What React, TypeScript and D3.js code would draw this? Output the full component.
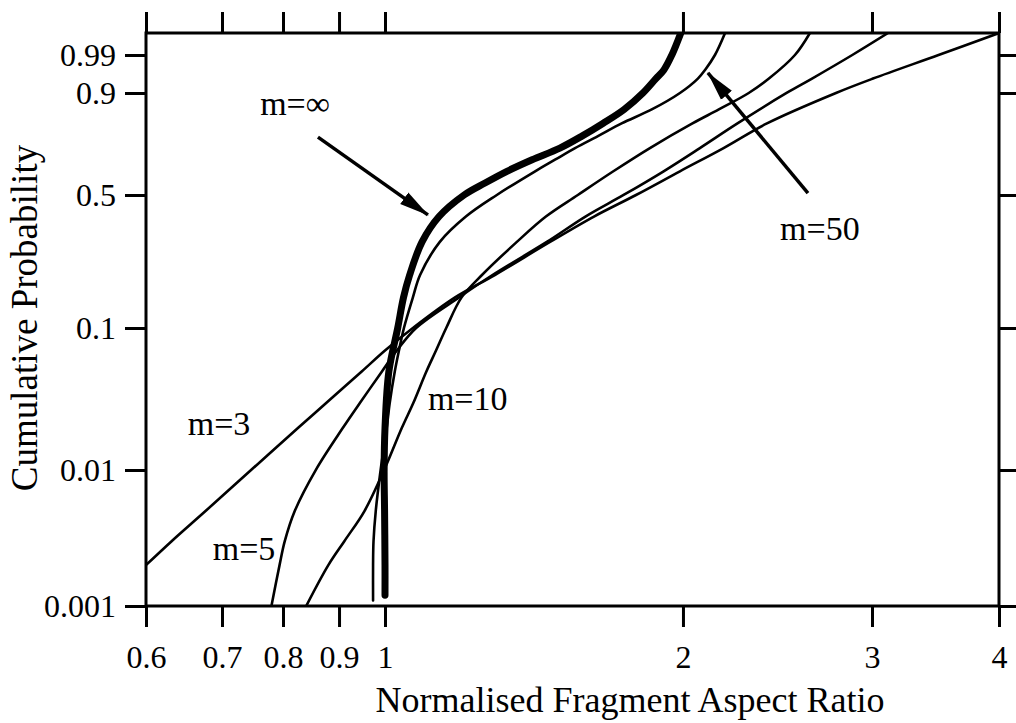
import * as d3 from "d3";
import { useEffect, useRef } from "react";

// axis ticks
const xTicks = [0.6, 0.7, 0.8, 0.9, 1, 2, 3, 4];
const xTickLabels = ["0.6", "0.7", "0.8", "0.9", "1", "2", "3", "4"];
const yTicks = [0.001, 0.01, 0.1, 0.5, 0.9, 0.99];
const yTickLabels = ["0.001", "0.01", "0.1", "0.5", "0.9", "0.99"];
const yMax = 0.999;

// curves: [normalised aspect ratio, cumulative probability]
const mInf: [number, number][] = [
  [1.0, 0.0012], [1.0, 0.002], [0.999, 0.005], [0.998, 0.01], [1.0, 0.02], [1.009, 0.05],
  [1.03, 0.1], [1.044, 0.15], [1.059, 0.2], [1.09, 0.3], [1.134, 0.4], [1.202, 0.5],
  [1.262, 0.55], [1.328, 0.6], [1.408, 0.65], [1.502, 0.7], [1.581, 0.75], [1.66, 0.8],
  [1.744, 0.85], [1.822, 0.9], [1.878, 0.95], [1.913, 0.97], [1.949, 0.99], [1.99, 0.999],
];
const m50: [number, number][] = [
  [0.973, 0.0011], [0.973, 0.002], [0.974, 0.003], [0.979, 0.005], [0.99, 0.01], [1.004, 0.02],
  [1.011, 0.03], [1.023, 0.05], [1.033, 0.07], [1.045, 0.1], [1.067, 0.15], [1.085, 0.2],
  [1.136, 0.3], [1.207, 0.4], [1.297, 0.5], [1.418, 0.6], [1.485, 0.65], [1.556, 0.7],
  [1.641, 0.75], [1.734, 0.8], [1.86, 0.85], [1.986, 0.9], [2.065, 0.95], [2.097, 0.97],
  [2.142, 0.99], [2.189, 0.999],
];
const m10: [number, number][] = [
  [0.84, 0.001], [0.88, 0.002], [0.911, 0.003], [0.954, 0.005], [0.998, 0.01], [1.04, 0.02],
  [1.068, 0.03], [1.101, 0.05], [1.126, 0.07], [1.153, 0.1], [1.195, 0.15], [1.253, 0.2],
  [1.359, 0.3], [1.454, 0.4], [1.566, 0.5], [1.701, 0.6], [1.852, 0.7], [2.041, 0.8],
  [2.16, 0.85], [2.303, 0.9], [2.405, 0.95], [2.543, 0.99], [2.626, 0.999],
];
const m5: [number, number][] = [
  [0.78, 0.001], [0.794, 0.002], [0.803, 0.003], [0.82, 0.005], [0.857, 0.01], [0.908, 0.02],
  [0.944, 0.03], [0.993, 0.05], [1.028, 0.07], [1.075, 0.1], [1.188, 0.15], [1.284, 0.2],
  [1.457, 0.3], [1.594, 0.4], [1.742, 0.5], [1.912, 0.6], [2.074, 0.7], [2.248, 0.8],
  [2.498, 0.9], [2.638, 0.95], [2.876, 0.99], [3.111, 0.999],
];
const m3: [number, number][] = [
  [0.6, 0.002], [0.632, 0.003], [0.677, 0.005], [0.746, 0.01], [0.826, 0.02], [0.876, 0.03],
  [0.948, 0.05], [1.0, 0.07], [1.067, 0.1], [1.177, 0.15], [1.291, 0.2], [1.468, 0.3],
  [1.626, 0.4], [1.793, 0.5], [1.986, 0.6], [2.182, 0.7], [2.395, 0.8], [2.777, 0.9],
  [3.007, 0.95], [3.488, 0.99], [4.0, 0.999],
];

// labels and arrows, in data coordinates
const labels: { text: string; at: [number, number] }[] = [
  { text: "m=∞", at: [0.761, 0.831] },
  { text: "m=50", at: [2.463, 0.307] },
  { text: "m=10", at: [1.105, 0.0268] },
  { text: "m=3", at: [0.653, 0.0178] },
  { text: "m=5", at: [0.687, 0.00218] },
];
const arrows: { from: [number, number]; to: [number, number] }[] = [
  { from: [0.861, 0.746], to: [1.105, 0.407] },
  { from: [2.615, 0.508], to: [2.11, 0.9638] },
];

const W = 1016;
const H = 723;
const margin = { top: 33, right: 17, bottom: 117, left: 146 };
// the printed axes are not evenly spaced: where each tick sits, as a fraction of the plot
const xTickFrac = [0, 0.0891, 0.1606, 0.2263, 0.2802, 0.6295, 0.8511, 1];
const yTickFrac = [0, 0.2373, 0.4852, 0.7173, 0.8953, 0.9616, 1];

const weib = (p: number) => Math.log(-Math.log(1 - p));
const FONT = "'Liberation Serif', 'Times New Roman', serif";

export default function App() {
  const svgRef = useRef<SVGSVGElement>(null);

  useEffect(() => {
    const svg = d3.select(svgRef.current);
    svg.selectAll("*").remove();

    const plotW = W - margin.left - margin.right;
    const plotH = H - margin.top - margin.bottom;

    const x = d3.scaleLog()
      .domain(xTicks)
      .range(xTickFrac.map(f => margin.left + f * plotW));
    const yLin = d3.scaleLinear()
      .domain([...yTicks, yMax].map(weib))
      .range(yTickFrac.map(f => margin.top + plotH - f * plotH));
    const y = (p: number) => yLin(weib(p));

    const defs = svg.append("defs");
    defs.append("clipPath").attr("id", "plotClip")
      .append("rect")
      .attr("x", margin.left).attr("y", margin.top)
      .attr("width", plotW).attr("height", plotH);
    defs.append("marker")
      .attr("id", "head")
      .attr("markerUnits", "userSpaceOnUse")
      .attr("viewBox", "0 -8 30 16")
      .attr("refX", 29).attr("refY", 0)
      .attr("markerWidth", 30).attr("markerHeight", 16)
      .attr("orient", "auto")
      .append("path")
      .attr("d", "M0,-7L30,0L0,7Z")
      .attr("fill", "#000");

    const tickLen = 21;
    const styleAxis = (g: any) => {
      g.select(".domain").remove();
      g.selectAll(".tick line").attr("stroke", "#000").attr("stroke-width", 3);
      g.selectAll(".tick text")
        .attr("fill", "#000")
        .style("font-family", FONT)
        .style("font-size", "32px");
    };

    svg.append("g")
      .attr("transform", `translate(0,${margin.top + plotH})`)
      .call(d3.axisBottom(x).tickValues(xTicks)
        .tickFormat((_d, i) => xTickLabels[i])
        .tickSize(tickLen).tickSizeOuter(0).tickPadding(18))
      .call(styleAxis);
    svg.append("g")
      .attr("transform", `translate(0,${margin.top})`)
      .call(d3.axisTop(x).tickValues(xTicks).tickFormat(() => "")
        .tickSize(tickLen).tickSizeOuter(0))
      .call(styleAxis);

    svg.append("g")
      .attr("transform", `translate(${margin.left},0)`)
      .call(d3.axisLeft(yLin).tickValues(yTicks.map(weib))
        .tickFormat((_d, i) => yTickLabels[i])
        .tickSize(tickLen).tickSizeOuter(0).tickPadding(9))
      .call(styleAxis);
    svg.append("g")
      .attr("transform", `translate(${margin.left + plotW},0)`)
      .call(d3.axisRight(yLin).tickValues(yTicks.map(weib)).tickFormat(() => "")
        .tickSize(tickLen).tickSizeOuter(0))
      .call(styleAxis);

    // frame
    svg.append("rect")
      .attr("x", margin.left).attr("y", margin.top)
      .attr("width", plotW).attr("height", plotH)
      .attr("fill", "none").attr("stroke", "#000").attr("stroke-width", 3);

    // curves
    const series = [
      { pts: m3, w: 2.6 },
      { pts: m5, w: 2.6 },
      { pts: m10, w: 2.6 },
      { pts: m50, w: 2.6 },
      { pts: mInf, w: 7 },
    ];
    const line = d3.line<[number, number]>()
      .x(d => x(d[0]))
      .y(d => y(d[1]))
      .curve(d3.curveCatmullRom.alpha(0.5));
    svg.append("g").attr("clip-path", "url(#plotClip)")
      .selectAll("path")
      .data(series)
      .enter()
      .append("path")
      .attr("d", s => line(s.pts))
      .attr("fill", "none")
      .attr("stroke", "#000")
      .attr("stroke-width", s => s.w)
      .attr("stroke-linecap", "round");

    // arrows
    svg.selectAll(".arrow")
      .data(arrows)
      .enter()
      .append("line")
      .attr("class", "arrow")
      .attr("x1", a => x(a.from[0])).attr("y1", a => y(a.from[1]))
      .attr("x2", a => x(a.to[0])).attr("y2", a => y(a.to[1]))
      .attr("stroke", "#000").attr("stroke-width", 3.5)
      .attr("marker-end", "url(#head)");

    svg.selectAll(".lbl")
      .data(labels)
      .enter()
      .append("text")
      .attr("class", "lbl")
      .attr("x", l => x(l.at[0]))
      .attr("y", l => y(l.at[1]))
      .style("font-family", FONT)
      .style("font-size", "34px")
      .text(l => l.text);

    // axis titles
    svg.append("text")
      .attr("x", 630).attr("y", 712)
      .attr("text-anchor", "middle")
      .style("font-family", FONT)
      .style("font-size", "36px")
      .text("Normalised Fragment Aspect Ratio");
    svg.append("text")
      .attr("transform", "translate(37,318) rotate(-90)")
      .attr("text-anchor", "middle")
      .style("font-family", FONT)
      .style("font-size", "37px")
      .text("Cumulative Probability");
  }, []);

  return (
    <svg
      ref={svgRef}
      width={W}
      height={H}
      style={{ position: "absolute", left: 0, top: 0, background: "#fff" }}
    />
  );
}
